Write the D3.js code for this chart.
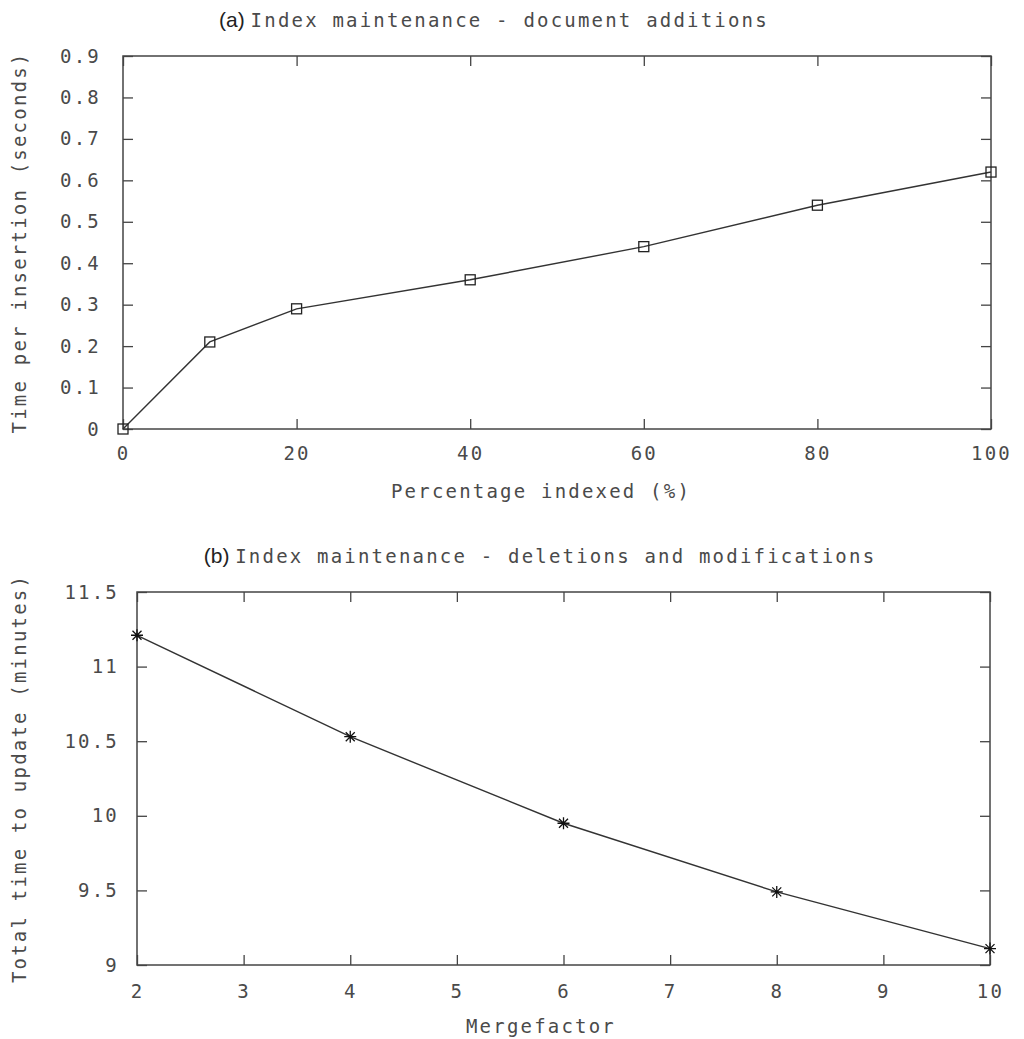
<!DOCTYPE html>
<html>
<head>
<meta charset="utf-8">
<script src="https://cdn.jsdelivr.net/npm/d3@7"></script>
<style>
  body { margin: 0; background: #fff; }
  text { font-family: "DejaVu Sans Mono", monospace; font-size: 19px; fill: #4a4a4a; letter-spacing: 2.2px; }
  .tag { font-family: "Liberation Sans", Arial, sans-serif; font-size: 21px; letter-spacing: 0; fill: #222; }
</style>
</head>
<body>
<svg id="chart" width="1024" height="1039"></svg>
<script>
// (a) document additions
var pctIndexed = [0, 10, 20, 40, 60, 80, 100];
var timePerInsert = [0, 0.21, 0.29, 0.36, 0.44, 0.54, 0.62];
var xTicksA = [0, 20, 40, 60, 80, 100];
var yTicksA = [0, 0.1, 0.2, 0.3, 0.4, 0.5, 0.6, 0.7, 0.8, 0.9];

// (b) deletions and modifications
var mergeFactor = [2, 4, 6, 8, 10];
var totalMinutes = [11.21, 10.53, 9.95, 9.49, 9.11];
var xTicksB = [2, 3, 4, 5, 6, 7, 8, 9, 10];
var yTicksB = [9, 9.5, 10, 10.5, 11, 11.5];

var svg = d3.select("#chart");
var ink = "#444";
var plain = function (d) { return String(d); };

function panel(o) {
  var x = d3.scaleLinear().domain(o.xDom).range([o.left, o.right]);
  var y = d3.scaleLinear().domain(o.yDom).range([o.bottom, o.top]);
  var g = svg.append("g");

  // ticks on all four sides, pointing inward
  var axes = [
    [d3.axisBottom(x).tickValues(o.xTicks).tickFormat(plain).tickSize(-10).tickPadding(o.xPad), "translate(0," + o.bottom + ")"],
    [d3.axisTop(x).tickValues(o.xTicks).tickSize(-10).tickFormat(""), "translate(0," + o.top + ")"],
    [d3.axisLeft(y).tickValues(o.yTicks).tickFormat(plain).tickSize(-10).tickPadding(o.yPad), "translate(" + o.left + ",0)"],
    [d3.axisRight(y).tickValues(o.yTicks).tickSize(-10).tickFormat(""), "translate(" + o.right + ",0)"]
  ];
  axes.forEach(function (a) {
    var ax = g.append("g").attr("transform", a[1]).call(a[0].tickSizeOuter(0));
    ax.select(".domain").remove();
    ax.selectAll("line").attr("stroke", ink).attr("stroke-width", 1.3);
    ax.selectAll("text").attr("fill", null);
  });
  g.selectAll(".tick text").attr("font-size", null).attr("font-family", null);

  g.append("rect")
    .attr("x", o.left).attr("y", o.top)
    .attr("width", o.right - o.left).attr("height", o.bottom - o.top)
    .attr("fill", "none").attr("stroke", ink).attr("stroke-width", 1.5);

  var line = d3.line().x(function (d) { return x(d[0]); }).y(function (d) { return y(d[1]); });
  var pts = o.xs.map(function (v, i) { return [v, o.ys[i]]; });
  g.append("path").datum(pts).attr("d", line)
    .attr("fill", "none").attr("stroke", "#333").attr("stroke-width", 1.4);

  if (o.marker === "square") {
    g.selectAll(".m").data(pts).enter().append("rect")
      .attr("x", function (d) { return x(d[0]) - 5; })
      .attr("y", function (d) { return y(d[1]) - 5; })
      .attr("width", 10).attr("height", 10)
      .attr("fill", "none").attr("stroke", "#222").attr("stroke-width", 1.3);
  } else {
    var star = "M-6,0H6M0,-6V6M-4.5,-4.5L4.5,4.5M-4.5,4.5L4.5,-4.5";
    g.selectAll(".m").data(pts).enter().append("path")
      .attr("transform", function (d) { return "translate(" + x(d[0]) + "," + y(d[1]) + ")"; })
      .attr("d", star).attr("stroke", "#111").attr("stroke-width", 1.3);
  }

  // titles
  var t = g.append("text").attr("x", o.titleX).attr("y", o.titleY).attr("text-anchor", "middle");
  t.append("tspan").attr("class", "tag").text(o.tag + " ");
  t.append("tspan").text(o.title);

  g.append("text").attr("x", 541).attr("y", o.xLabelY)
    .attr("text-anchor", "middle").text(o.xLabel);

  g.append("text")
    .attr("transform", "translate(26," + (o.top + o.bottom) / 2 + ") rotate(-90)")
    .attr("text-anchor", "middle").text(o.yLabel);
}

panel({
  xDom: [0, 100], yDom: [0, 0.9], left: 123, right: 991, top: 56, bottom: 429,
  xTicks: xTicksA, yTicks: yTicksA, xPad: 18, yPad: 22, xs: pctIndexed, ys: timePerInsert, marker: "square",
  tag: "(a)", title: "Index maintenance - document additions", titleX: 494, titleY: 27,
  xLabel: "Percentage indexed (%)", xLabelY: 498, yLabel: "Time per insertion (seconds)"
});

panel({
  xDom: [2, 10], yDom: [9, 11.5], left: 137, right: 990, top: 592, bottom: 965,
  xTicks: xTicksB, yTicks: yTicksB, xPad: 20, yPad: 18, xs: mergeFactor, ys: totalMinutes, marker: "star",
  tag: "(b)", title: "Index maintenance - deletions and modifications", titleX: 540, titleY: 563,
  xLabel: "Mergefactor", xLabelY: 1033, yLabel: "Total time to update (minutes)"
});
</script>
</body>
</html>
